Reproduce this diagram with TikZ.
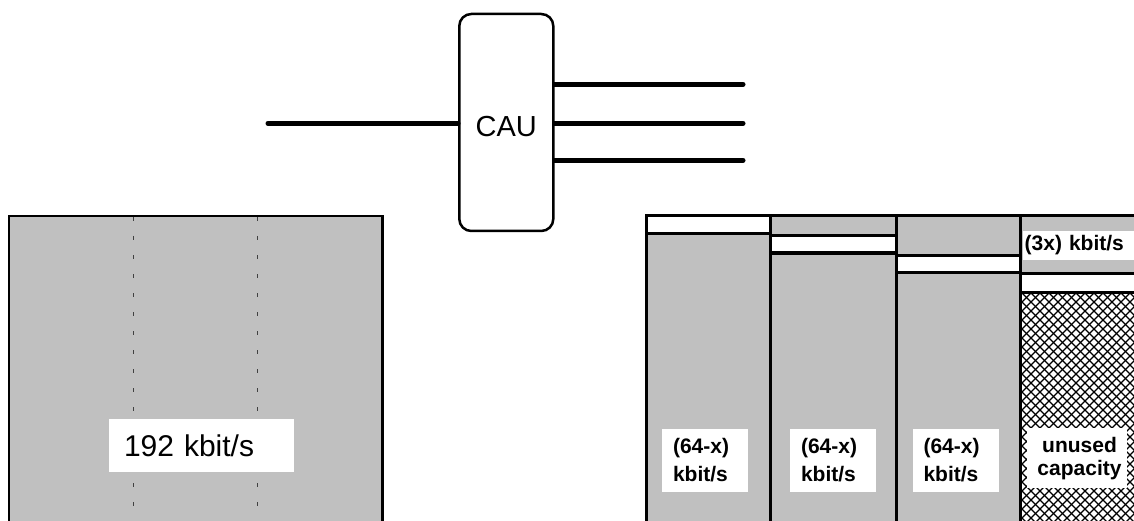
\documentclass[tikz,border=0pt]{standalone}
\usepackage{fontspec}
\setmainfont{Liberation Sans}
\definecolor{colgrey}{RGB}{192,192,192}
\tikzset{
  wire/.style={line width=5pt, line cap=round},
  colbox/.style={fill=colgrey, draw=black, line width=3pt},
  slotbox/.style={fill=white, draw=black, line width=3pt},
  labelbox/.style={fill=white, draw=none, font=\fontsize{21}{28}\selectfont\bfseries, inner sep=0pt},
  sep/.style={draw=black!75, line width=1.3pt, dash pattern=on 4pt off 15pt},
  hatch/.style={line width=1.2pt, black},
}
\begin{document}
\begin{tikzpicture}[x=1pt,y=-1pt]
\useasboundingbox (0,0) rectangle (1134,521);
\clip (0,0) rectangle (1134,521);
% CAU
\node[draw, line width=2.5pt, rounded corners=12pt, minimum width=94pt, minimum height=217pt,
      inner sep=0pt, text height=29pt, text depth=0pt, font=\fontsize{29}{34}\selectfont] (cau) at (506.3,122.5) {CAU};
\coordinate (inL) at (268,123.3);
\coordinate (o1) at (743,84.3);
\coordinate (o2) at (743,123.3);
\coordinate (o3) at (743,160.3);
\draw[wire] (inL) -- (cau.west |- inL);
\draw[wire] (cau.east |- o1) -- (o1);
\draw[wire] (cau.east |- o2) -- (o2);
\draw[wire] (cau.east |- o3) -- (o3);
% left channel
\draw[colbox, line width=2.4pt] (9,216) rectangle (382.3,540);
\draw[sep] (133.3,217) -- (133.3,540);
\draw[sep] (257.7,217) -- (257.7,540);
\node[fill=white, inner xsep=15pt, inner ysep=0pt, minimum height=53pt, text width=155pt, align=left,
      font=\fontsize{30}{36}\selectfont] (l192) at (201.5,445.5) {192 kbit/s};
% right channels
\draw[colbox] (646,216) rectangle (770,540);
\draw[slotbox] (646,216) rectangle (770,234);
\draw[colbox] (770,216) rectangle (896,540);
\draw[slotbox] (770,236) rectangle (896,253);
\draw[colbox] (896,216) rectangle (1020.7,540);
\draw[slotbox] (896,255) rectangle (1020.7,272);
\draw[colbox] (1020.7,216) rectangle (1150,540);
\draw[slotbox] (1020.7,273) rectangle (1150,292);
\fill[white] (1022,293.3) rectangle (1150,540);
\begin{scope}
  \clip (1022,293.3) rectangle (1150,540);
  \foreach \c in {0,...,45} {
    \draw[hatch] (1022+9*\c-270,293) -- ++(270,270);
    \draw[hatch] (1022+9*\c,293) -- ++(-270,270);
  }
\end{scope}
\draw[line width=3pt] (1020.7,292) -- (1020.7,540);
\draw[line width=3pt] (1020.7,292) -- (1150,292);
% labels
\node[labelbox, anchor=west, minimum height=28pt, text width=110pt, inner xsep=1.5pt, align=left] (l3x) at (1023,245.5) {(3x) kbit/s};
\node[labelbox, minimum width=86pt, minimum height=63pt, inner xsep=11pt, text width=64pt, align=left] (la) at (705,460.5) {(64-x)\\kbit/s};
\node[labelbox, minimum width=86pt, minimum height=63pt, inner xsep=11pt, text width=64pt, align=left] (lb) at (833,460.5) {(64-x)\\kbit/s};
\node[labelbox, minimum width=86pt, minimum height=63pt, inner xsep=11pt, text width=64pt, align=left] (lc) at (955.5,460.5) {(64-x)\\kbit/s};
\node[fill=white, minimum width=100pt, minimum height=60pt, inner sep=0pt] (lubox) at (1077,458) {};
\node[align=center, inner sep=0pt, font=\fontsize{21}{23}\selectfont\bfseries] (lu) at (1079.5,459) {unused\\capacity};
\end{tikzpicture}
\end{document}
